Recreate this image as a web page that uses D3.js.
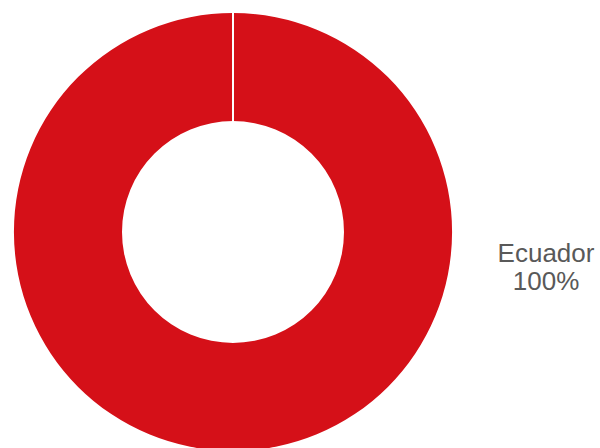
<!DOCTYPE html>
<html><head><meta charset="utf-8">
<script src="https://cdn.jsdelivr.net/npm/d3@7"></script>
<style>html,body{margin:0;padding:0;background:#fff;}svg{display:block;}</style>
</head><body>
<script>
const categories = ["Ecuador"];
const values = [100];
const colors = ["#d51018"];

const W = 600, H = 448;
const cx = 233, cy = 232, outerR = 219, innerR = 111;

const svg = d3.select("body").append("svg").attr("width", W).attr("height", H);
const g = svg.append("g").attr("transform", `translate(${cx},${cy})`);

const pie = d3.pie().sort(null).value(d => d);
const arcs = pie(values);
const arc = d3.arc().innerRadius(innerR).outerRadius(outerR);

g.selectAll("path.slice").data(arcs).enter().append("path")
  .attr("class", "slice")
  .attr("d", arc)
  .attr("fill", (d, i) => colors[i]);

// slice borders (white separators at slice start angles)
g.selectAll("line.sep").data(arcs).enter().append("line")
  .attr("class", "sep")
  .attr("x1", d => innerR * Math.sin(d.startAngle))
  .attr("y1", d => -innerR * Math.cos(d.startAngle))
  .attr("x2", d => (outerR + 1) * Math.sin(d.startAngle))
  .attr("y2", d => -(outerR + 1) * Math.cos(d.startAngle))
  .attr("stroke", "#fff").attr("stroke-width", 2);

const total = d3.sum(values);
const lab = svg.append("text")
  .attr("text-anchor", "middle")
  .attr("font-family", "Arial, 'Liberation Sans', sans-serif")
  .attr("font-size", 26)
  .attr("fill", "#595959");
categories.forEach((c, i) => {
  lab.append("tspan").attr("x", 546).attr("y", 262).text(c);
  lab.append("tspan").attr("x", 546).attr("y", 290).text(Math.round(values[i] / total * 100) + "%");
});
</script>
</body></html>
